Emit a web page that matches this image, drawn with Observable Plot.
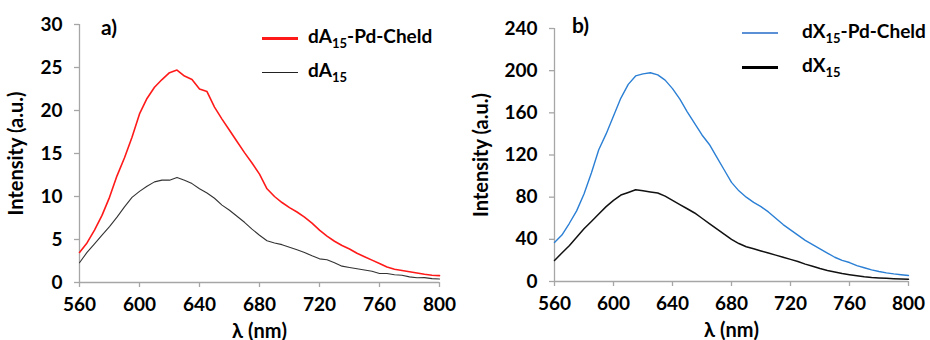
<!DOCTYPE html>
<html>
<head>
<meta charset="utf-8">
<script src="https://cdn.jsdelivr.net/npm/d3@7"></script>
<script src="https://cdn.jsdelivr.net/npm/@observablehq/plot@0.6"></script>
<style>
  html, body { margin: 0; padding: 0; background: #fff; }
  #wrap { display: flex; width: 930px; height: 340px; font-family: Lato, "Open Sans", sans-serif; }
  .panel { position: relative; width: 465px; height: 340px; }
  .lbl { position: absolute; font-weight: 700; font-size: 21px; color: #000; line-height: 1; }
  .leg { position: absolute; display: flex; align-items: center; font-weight: 700; font-size: 19px; color: #000; line-height: 1; white-space: nowrap; }
  .leg .sw { display: inline-block; width: 36px; }
  .leg sub { font-size: 13px; vertical-align: -5px; }
</style>
</head>
<body>
<div id="wrap">
  <div class="panel" id="pa"></div>
  <div class="panel" id="pb"></div>
</div>
<script>
// wavelengths (nm)
const wavelength = d3.range(560, 801, 5);

// Panel a
const dA15PdCheld = [3.5,4.6,6.1,7.8,9.9,12.4,14.5,16.9,19.6,21.4,22.7,23.6,24.4,24.7,24.0,23.6,22.5,22.2,20.4,19.0,17.7,16.4,15.1,13.9,12.6,10.9,10.0,9.3,8.7,8.2,7.6,6.9,6.1,5.4,4.8,4.3,3.9,3.4,3.0,2.6,2.2,1.8,1.55,1.4,1.25,1.1,0.95,0.85,0.8];
const dA15 = [2.3,3.5,4.5,5.5,6.5,7.6,8.8,9.9,10.6,11.2,11.7,11.9,11.9,12.2,11.9,11.5,10.9,10.4,9.8,9.0,8.4,7.7,7.0,6.2,5.5,4.85,4.6,4.4,4.1,3.8,3.5,3.1,2.75,2.65,2.3,1.9,1.75,1.6,1.45,1.3,1.05,1.05,0.9,0.85,0.65,0.55,0.57,0.45,0.4];

// Panel b
const dX15PdCheld = [37,44,55,67,83,103,125,140,157,174,187,195,197,198,196,191,183,173,161,150,139,130,118,106,94,86,80,75,71,66,60,54,49,44,39,35,31,27,23,20,18,15,13,11,9.5,8.2,7.2,6.4,5.7];
const dX15 = [20,27,34,42,50,57,64,71,77,82,84.5,87,86,85,84,81,77,73,69,65,60,55,50,45,40,36,33,31,29,27,25,23,21,19,16.5,14.5,12.3,10.5,9,7.5,6.5,5.5,4.6,3.9,3.4,3.0,2.7,2.4,2.2];

const xTicks = [560,600,640,680,720,760,800];
const yTicksA = [0,5,10,15,20,25,30];
const yTicksB = [0,40,80,120,160,200,240];

function rows(series, name) {
  return wavelength.map((w, i) => ({w, v: series[i], s: name}));
}

const axisColor = "#a6a6a6";
const font = "Lato, 'Open Sans', sans-serif";

function panel({data, colors, widths, yDomain, yTicks, margins}) {
  return Plot.plot({
    width: 465,
    height: 340,
    marginLeft: margins[0], marginRight: margins[1], marginTop: margins[2], marginBottom: margins[3],
    style: {fontFamily: font, fontSize: "19px", fontWeight: "700", color: "#000", background: "#fff", overflow: "visible"},
    x: {domain: [560, 800], ticks: xTicks, tickFormat: d3.format("d"), label: null},
    y: {domain: yDomain, ticks: yTicks, tickFormat: d3.format("d"), label: null},
    marks: [
      Plot.ruleX([560], {stroke: axisColor, strokeWidth: 1.3}),
      Plot.ruleY([yDomain[0]], {stroke: axisColor, strokeWidth: 1.3}),
      Plot.axisX({ticks: xTicks, tickSize: 5, tickPadding: 10, stroke: axisColor, strokeWidth: 1.3, fill: "#000", tickFormat: d3.format("d"), label: "λ (nm)", labelAnchor: "center", labelArrow: "none", labelOffset: 55, fontSize: 19}),
      Plot.axisY({ticks: yTicks, tickSize: 5, tickPadding: 12, stroke: axisColor, strokeWidth: 1.3, fill: "#000", tickFormat: d3.format("d"), label: "Intensity (a.u.)", labelAnchor: "center", labelArrow: "none", labelOffset: margins[0] - 8, fontSize: 19}),
      ...data.map((d, i) => Plot.line(d, {x: "w", y: "v", stroke: colors[i], strokeWidth: widths[i], curve: "linear"}))
    ]
  });
}

const pa = panel({
  data: [rows(dA15, "dA15"), rows(dA15PdCheld, "dA15-Pd-Cheld")],
  colors: ["#333333", "#ff1a1a"],
  widths: [1.1, 1.6],
  yDomain: [0, 30], yTicks: yTicksA,
  margins: [79, 26, 24, 58]
});
const pb = panel({
  data: [rows(dX15, "dX15"), rows(dX15PdCheld, "dX15-Pd-Cheld")],
  colors: ["#111111", "#2b7fd4"],
  widths: [1.5, 1.4],
  yDomain: [0, 240], yTicks: yTicksB,
  margins: [89, 22, 28, 59]
});
document.getElementById("pa").appendChild(pa);
document.getElementById("pb").appendChild(pb);

// Axis label font size
for (const svg of [pa, pb]) {
  svg.querySelectorAll("[aria-label='x-axis label'] text, [aria-label='y-axis label'] text").forEach(t => t.setAttribute("font-size", "20"));
}

// Panel labels and legends (HTML overlay)
function addHTML(id, html) {
  document.getElementById(id).insertAdjacentHTML("beforeend", html);
}
addHTML("pa", `<div class="lbl" style="left:101px;top:16px">a)</div>
  <div class="leg" style="left:262px;top:26px"><span class="sw" style="border-top:3px solid #ff1a1a"></span><span style="margin-left:10px">dA<sub>15</sub>-Pd-Cheld</span></div>
  <div class="leg" style="left:262px;top:60px"><span class="sw" style="border-top:1.5px solid #222"></span><span style="margin-left:10px">dA<sub>15</sub></span></div>`);
addHTML("pb", `<div class="lbl" style="left:107px;top:14px">b)</div>
  <div class="leg" style="left:277px;top:21px"><span class="sw" style="border-top:2px solid #5b8fd6"></span><span style="margin-left:24px">dX<sub>15</sub>-Pd-Cheld</span></div>
  <div class="leg" style="left:277px;top:55px"><span class="sw" style="border-top:3px solid #000"></span><span style="margin-left:24px">dX<sub>15</sub></span></div>`);
</script>
</body>
</html>
